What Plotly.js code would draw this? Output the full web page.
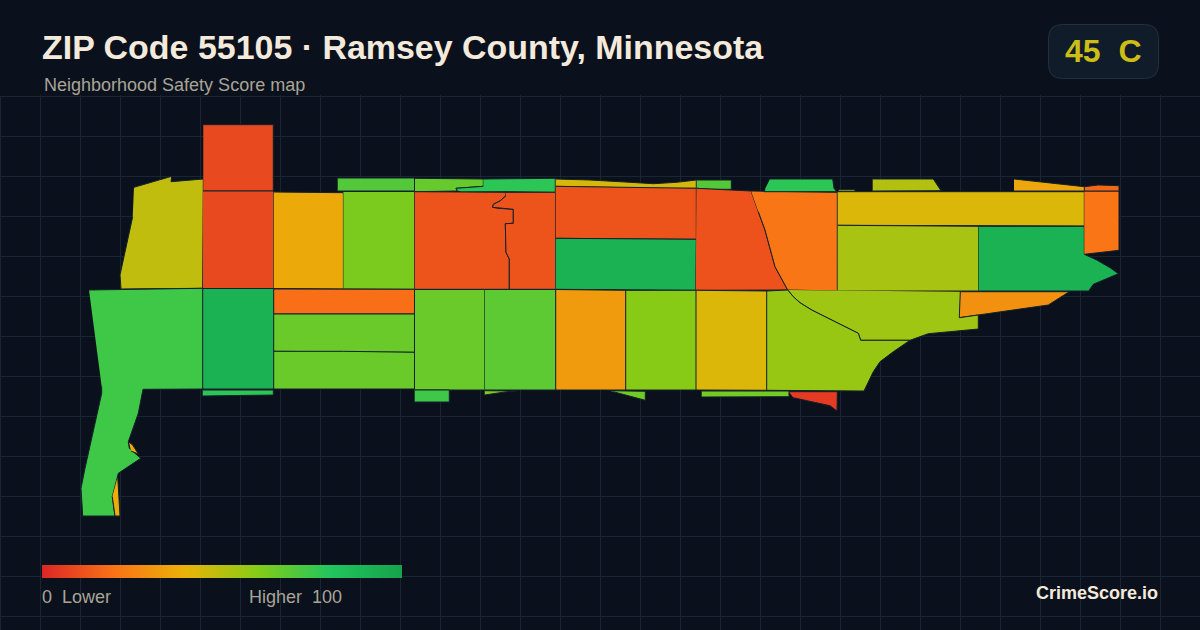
<!DOCTYPE html>
<html><head><meta charset="utf-8">
<script src="https://cdn.plot.ly/plotly-3.0.1.min.js"></script>
<style>html,body{margin:0;padding:0;background:#0a111c}#c{width:1200px;height:630px}</style>
</head><body><div id="c"></div>
<script>
var scoreStops = [0, 20, 40, 60, 80, 100];
var scoreColors = ['#dc2626', '#f97316', '#eab308', '#84cc16', '#22c55e', '#16a34a'];
var badgeText = '45\u00a0\u00a0C';
var titleText = 'ZIP Code 55105 · Ramsey County, Minnesota';
var subtitleText = 'Neighborhood Safety Score map';

var names = ['NW olive','N tall','N red','Amber','Lime A','Strip A','Strip B','Strip C','Red W','Red E',
 'Yellow strip','Red mid','Green mid','Strip D','Red NE','Orange NE','Strip E','Sliver A','Strip F','Yellow band',
 'Lime band','Green E','Orange tip','Orange cap','Amber strip','Orange SE','Lime SE','Lime S','Red S','Strip G',
 'Yellow S','Lime C','Amber S','Lime D','Green D','Strip H','Sliver B','Sliver C','Orange W','Lime E',
 'Lime F','Green W','Strip I','Green SW','Amber SW'];
var scores = [48,9,9,37,62,66,78,70,12,12,
 44,12,91,70,11.5,21,78,52,51,43,
 53,91,20.5,17,36,29,55,56,5.5,63.5,
 43,59.5,32.5,65.5,68,74,61.5,64,19,65.5,
 65.5,91,78,74,38];
var xs = [
 [134,171.7,171,203.3,202.7,121,120,132.7],
 [203.3,273.3,273.3,203.3],
 [203,273.5,273.5,203],
 [273.7,343.4,343.4,273.7],
 [343.4,414.5,414.5,343.4],
 [414.7,449.3,483.3,483.3,456,457.3,414.7],
 [483.3,555.3,555.3,506,461,457.3,456,483.3],
 [337.7,414.5,414.5,337.7],
 [414.7,506,506,500,493.3,492.7,498.3,513.3,513.3,505.3,506,509.3,509.3,414.7],
 [506,555.5,555.5,509.3,509.3,506,505.3,513.3,513.3,498.3,492.7,493.3,500,506],
 [555.7,590,630,653.3,676.7,696.3,696.3,661,590,555.7],
 [555.7,696.3,696.3,626.7,555.7],
 [555.7,696.3,695.7,555.7],
 [696.7,731.3,731.3,711.7,696.7],
 [696.5,751,758.3,765,775,787.7,695.7],
 [751,837.3,837.3,787.7,775,765,758.3],
 [770,832.7,834,836.7,764,765],
 [838.7,855,855,838.7],
 [872.7,933.3,941,872.7],
 [837.7,1084.3,1084.3,960,907.7,837.7],
 [837.7,978.7,978.7,837.7],
 [978.7,1084.3,1084.3,1096.7,1110,1118.3,1093.3,1088.7,978.7],
 [1084.3,1119,1119,1084.3],
 [1084.3,1098.3,1119,1119,1084.3],
 [1014,1084.3,1084.3,1014],
 [960.3,1069.3,1048.3,959.3],
 [787.7,793.3,800,811.7,858.3,860.7,910,928.3,978.3,978.3,959.3,960.3],
 [766.7,787.7,793.3,800,811.7,858.3,860.7,910,893.3,886.7,880,873.3,864,766.7],
 [789,837.3,837,830,793.3],
 [701.7,789,789,701.7],
 [696,766.7,766.7,696],
 [625.7,696,696,625.7],
 [555.7,625.7,625.7,555.7],
 [414.7,484.7,484.7,414.7],
 [484.7,555.7,555.7,484.7],
 [414.7,449.3,449.3,414.7],
 [484.7,516.7,506.7,484.7],
 [610,645.3,645.3,613.3],
 [273.7,414.5,414.5,273.7],
 [273.7,343.3,414.5,414.5,273.7],
 [273.7,343.3,414.5,414.5,273.7],
 [203,273.7,273.7,203],
 [202.7,273.3,273.3,238.3,202.7],
 [89,161.7,202.7,202.7,143,138.3,128.3,129.3,140.7,118.3,112.3,115,82.7,81,85,101.7,101.7],
 [129,132.7,138.3,131,null,117.7,120,115,112.3]
];
var ys = [
 [187.3,176.3,181.7,179,288.3,289,275,216.7],
 [124.7,124.7,191,191],
 [191,191,288.5,288.5],
 [192,192.7,289,288.5],
 [191.5,191.5,289.3,289],
 [178.3,178.3,179,186.3,188.3,191,191.7],
 [179,178.3,192.3,191.7,192,191,188.3,186.3],
 [178,178,191,191],
 [191.7,192.3,195.7,201,204.3,207.3,208.3,209.3,223.3,223.7,252.3,259,289.3,289.3],
 [192.3,192.3,289.3,289.3,259,252.3,223.7,223.3,209.3,208.3,207.3,204.3,201,195.7],
 [179,180,182.3,183.7,182.3,180,188.3,188.3,187,186.3],
 [186.3,188.3,239.3,239,238.3],
 [238.3,239.3,290.3,289.3],
 [180,180,189.3,189.3,188.3],
 [188.3,191,211.7,230,266.7,290,290.3],
 [191,192.3,291,290,266.7,230,211.7],
 [179,179,188.3,191.7,191.7,189],
 [189.7,189.7,191.3,191.3],
 [179,179,190.7,191],
 [191.7,191.7,226,226,226,225.3],
 [225.3,226.3,291,291],
 [226.3,226.3,254.3,260,267.7,273.7,284.3,291,291],
 [191,191,250.3,254.3],
 [186.7,185,185.7,191,191],
 [179,186.7,191,191],
 [291.7,291.7,305,317.7],
 [290,296.7,302.7,310,333.3,340.3,340.3,333.7,329,315,317.7,291.7],
 [291,290,296.7,302.7,310,333.3,340.3,340.3,351.7,356.7,361.7,371.7,391,390.3],
 [391.7,391.7,411,405.7,397.7],
 [391,391,396.7,397],
 [290.3,291,390.3,390],
 [290.3,290.3,390,390],
 [289.5,290.3,390,390],
 [289.5,289.5,390,390],
 [289.5,289.5,390,390],
 [390,390,402,402],
 [390.7,391,391.7,395],
 [390.7,391.3,400.3,391.7],
 [289,289.3,314,314],
 [314,314,314,352.3,351.3],
 [351.3,351.3,352.3,389,389],
 [288.5,288.5,389,389],
 [390,390,395,395.7,396],
 [290,289,288.3,389,389.3,413.3,441.7,448.3,458.3,473.3,496.7,516,516,488.3,468.3,393.3,386.7],
 [442,445,454,451,null,476.7,516,516,496.7]
];

function hexToRgb(h){return [1,3,5].map(function(i){return parseInt(h.substr(i,2),16);});}
function colorFor(v){
  for(var i=1;i<scoreStops.length;i++){
    if(v<=scoreStops[i]){
      var t=(v-scoreStops[i-1])/(scoreStops[i]-scoreStops[i-1]);
      var a=hexToRgb(scoreColors[i-1]),b=hexToRgb(scoreColors[i]);
      return 'rgb('+[0,1,2].map(function(k){return Math.round(a[k]+(b[k]-a[k])*t);}).join(',')+')';
    }
  }
  return scoreColors[scoreColors.length-1];
}
var traces = names.map(function(n,i){
  return {type:'scatter',mode:'lines',name:n,x:xs[i],y:ys[i],fill:'toself',
    fillcolor:colorFor(scores[i]),line:{color:'#15212b',width:1},hoverinfo:'skip',showlegend:false};
});
var TOP=95, H=630-TOP;
function px(x){return x/1200;}
function py(y){return (630-y)/H;}
traces.push({type:'scatter',mode:'markers',x:[-50,-50],y:[-50,-50],hoverinfo:'skip',showlegend:false,
  marker:{color:[0,100],cmin:0,cmax:100,size:1,
    colorscale:scoreStops.map(function(s,i){return [s/100,scoreColors[i]];}),
    showscale:true,
    colorbar:{orientation:'h',thickness:13,thicknessmode:'pixels',len:360,lenmode:'pixels',
      x:px(42),xanchor:'left',y:py(578),yanchor:'bottom',xpad:0,ypad:0,
      outlinewidth:0,borderwidth:0,ticks:'',showticklabels:false}}});
function label(text,x,y,size,color,bold,anchor){
  return {text:bold?'<b>'+text+'</b>':text,xref:'paper',yref:'paper',x:px(x),y:py(y),xanchor:anchor||'left',yanchor:'middle',
    showarrow:false,borderpad:0,borderwidth:0,font:{family:'"Liberation Sans",Arial,sans-serif',size:size,color:color}};
}
function round(x0,y0,x1,y1,r){
  var X=px,Y=py;
  return 'M'+X(x0+r)+','+Y(y0)+' L'+X(x1-r)+','+Y(y0)+' Q'+X(x1)+','+Y(y0)+' '+X(x1)+','+Y(y0+r)+
    ' L'+X(x1)+','+Y(y1-r)+' Q'+X(x1)+','+Y(y1)+' '+X(x1-r)+','+Y(y1)+' L'+X(x0+r)+','+Y(y1)+
    ' Q'+X(x0)+','+Y(y1)+' '+X(x0)+','+Y(y1-r)+' L'+X(x0)+','+Y(y0+r)+' Q'+X(x0)+','+Y(y0)+' '+X(x0+r)+','+Y(y0)+' Z';
}
var gridColor='#182532';
var axisBase={showgrid:true,gridcolor:gridColor,gridwidth:1,zeroline:false,showline:false,showticklabels:false,ticks:'',fixedrange:true,dtick:40};
var layout={
  width:1200,height:630,margin:{l:0,r:0,t:TOP,b:0,pad:0},
  paper_bgcolor:'#0a111c',plot_bgcolor:'#0a111c',showlegend:false,hovermode:false,
  xaxis:Object.assign({},axisBase,{range:[0,1200],tick0:0.5}),
  yaxis:Object.assign({},axisBase,{range:[630,TOP],tick0:96.5}),
  shapes:[{type:'path',xref:'paper',yref:'paper',path:round(1048.5,24.5,1158.5,78.5,14),
    fillcolor:'#111c2a',line:{color:'#232f3d',width:1}},
    {type:'line',xref:'x',yref:'y',x0:0.5,x1:0.5,y0:96.5,y1:630,layer:'below',line:{color:gridColor,width:1}}],
  annotations:[
    label(titleText,41.7,47,33.95,'#f4eadc',true),
    label(subtitleText,44,85,18,'#a9a498',false),
    label(badgeText,1102.5,51,32,'#cdbd17',true,'center'),
    label('0\u00a0\u00a0Lower',42,597,18,'#a9a498',false),
    label('Higher\u00a0\u00a0100',249,597,18,'#a9a498',false),
    label('CrimeScore.io',1158,593,18,'#f4eadc',true,'right')
  ]
};
Plotly.newPlot('c',traces,layout,{staticPlot:true,displayModeBar:false});
</script></body></html>
